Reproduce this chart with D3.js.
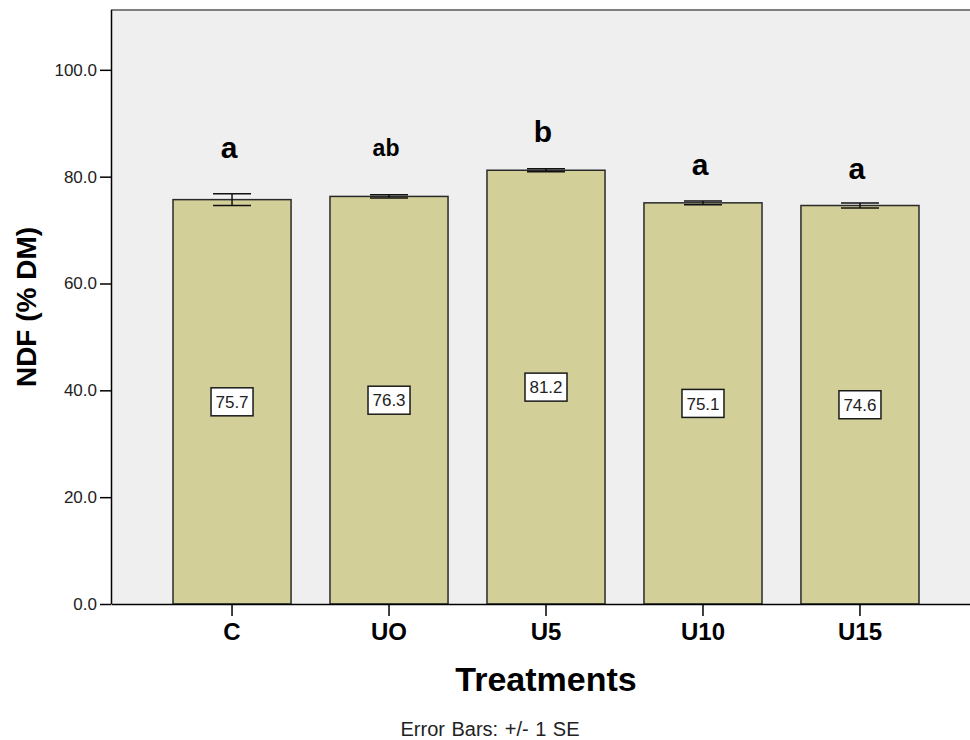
<!DOCTYPE html>
<html lang="en">
<head>
    <meta charset="utf-8">
    <title>NDF (% DM)</title>
    <style type="text/css">
        body { margin: 0; background: #fff; }
        svg { font-family: Arial, "Liberation Sans", sans-serif; display: block; }
        .axis path, .axis line { stroke: #000; stroke-width: 1.5; }
        .y-axis text { font-size: 17px; fill: #222; }
        .x-axis text { font-size: 24px; font-weight: bold; fill: #000; }
    </style>
</head>
<body>
    <svg class="chart" width="970" height="740"></svg>

    <script src="https://cdn.jsdelivr.net/npm/d3@7/dist/d3.min.js"></script>
    <script>
        // data
        var treatments = ['C', 'UO', 'U5', 'U10', 'U15'];
        var means      = [75.7, 76.3, 81.2, 75.1, 74.6];
        var se         = [1.1, 0.3, 0.3, 0.35, 0.45];
        var letters    = ['a', 'ab', 'b', 'a', 'a'];
        var letterAt   = [83.5, 83.9, 86.5, 80.3, 79.6];   // y value the letter sits on
        var yTicks     = [0, 20, 40, 60, 80, 100];

        var svg = d3.select('.chart'),
            plot = {left: 111, right: 981, top: 10, bottom: 604};

        var x = d3.scaleBand()
            .domain(treatments)
            .range([plot.left, plot.right])
            .paddingInner(0.248)
            .paddingOuter(0.395);

        var y = d3.scaleLinear()
            .domain([0, 111.2])
            .range([plot.bottom, plot.top]);

        // plot background
        svg.append('rect')
            .attr('x', plot.left).attr('y', plot.top)
            .attr('width', plot.right - plot.left)
            .attr('height', plot.bottom - plot.top)
            .attr('fill', '#efefef');

        // top frame line
        svg.append('line')
            .attr('x1', plot.left).attr('x2', plot.right)
            .attr('y1', plot.top).attr('y2', plot.top)
            .attr('stroke', '#808080').attr('stroke-width', 2);

        var rows = treatments.map(function(t, i) {
            return {name: t, mean: means[i], se: se[i], letter: letters[i], at: letterAt[i]};
        });

        // bars
        svg.append('g').selectAll('rect')
            .data(rows)
            .enter().append('rect')
            .attr('x', function(d) { return x(d.name); })
            .attr('y', function(d) { return y(d.mean); })
            .attr('width', x.bandwidth())
            .attr('height', function(d) { return y(0) - y(d.mean); })
            .attr('fill', '#d3cf99')
            .attr('stroke', '#2a2a2a')
            .attr('stroke-width', 1.5);

        // error bars
        var capW = 38;
        var eb = svg.append('g').attr('stroke', '#111').attr('stroke-width', 1.5)
            .selectAll('g')
            .data(rows)
            .enter().append('g');

        eb.append('line')
            .attr('x1', function(d) { return x(d.name) + x.bandwidth() / 2; })
            .attr('x2', function(d) { return x(d.name) + x.bandwidth() / 2; })
            .attr('y1', function(d) { return y(d.mean + d.se); })
            .attr('y2', function(d) { return y(d.mean - d.se); });

        [1, -1].forEach(function(s) {
            eb.append('line')
                .attr('x1', function(d) { return x(d.name) + x.bandwidth() / 2 - capW / 2; })
                .attr('x2', function(d) { return x(d.name) + x.bandwidth() / 2 + capW / 2; })
                .attr('y1', function(d) { return y(d.mean + s * d.se); })
                .attr('y2', function(d) { return y(d.mean + s * d.se); });
        });

        // value labels in boxes
        var lab = svg.append('g').selectAll('g')
            .data(rows)
            .enter().append('g')
            .attr('transform', function(d) {
                return 'translate(' + (x(d.name) + x.bandwidth() / 2) + ',' + y(d.mean / 2) + ')';
            });

        lab.append('rect')
            .attr('x', -21).attr('y', -14)
            .attr('width', 42).attr('height', 28)
            .attr('fill', '#fff')
            .attr('stroke', '#1a1a1a')
            .attr('stroke-width', 1.5);

        lab.append('text')
            .attr('text-anchor', 'middle')
            .attr('dy', '0.36em')
            .attr('font-size', 17)
            .attr('fill', '#222')
            .text(function(d) { return d.mean.toFixed(1); });

        // significance letters
        svg.append('g').selectAll('text')
            .data(rows)
            .enter().append('text')
            .attr('x', function(d) { return x(d.name) + x.bandwidth() / 2 - 3; })
            .attr('y', function(d) { return y(d.at); })
            .attr('text-anchor', 'middle')
            .attr('font-weight', 'bold')
            .attr('font-size', function(d) { return d.letter.length > 1 ? 23 : 30; })
            .text(function(d) { return d.letter; });

        // axes
        svg.append('g')
            .attr('class', 'axis y-axis')
            .attr('transform', 'translate(' + plot.left + ',0)')
            .call(d3.axisLeft(y).tickValues(yTicks).tickFormat(d3.format('.1f')).tickSize(11).tickPadding(3).tickSizeOuter(0))
            .call(function(g) {
                g.select('.domain').attr('d', 'M0.5,' + plot.top + 'V' + plot.bottom);
            });

        svg.append('g')
            .attr('class', 'axis x-axis')
            .attr('transform', 'translate(0,' + plot.bottom + ')')
            .call(d3.axisBottom(x).tickSize(12).tickPadding(7).tickSizeOuter(0));

        // titles
        svg.append('text')
            .attr('transform', 'translate(36,' + (plot.top + plot.bottom) / 2 + ') rotate(-90)')
            .attr('text-anchor', 'middle')
            .attr('font-size', 28)
            .attr('font-weight', 'bold')
            .text('NDF (% DM)');

        svg.append('text')
            .attr('x', 546).attr('y', 691)
            .attr('text-anchor', 'middle')
            .attr('font-size', 34)
            .attr('font-weight', 'bold')
            .text('Treatments');

        svg.append('text')
            .attr('x', 490).attr('y', 736)
            .attr('text-anchor', 'middle')
            .attr('font-size', 20)
            .attr('word-spacing', '1px')
            .attr('fill', '#222')
            .text('Error Bars: +/- 1 SE');
    </script>
</body>
</html>
